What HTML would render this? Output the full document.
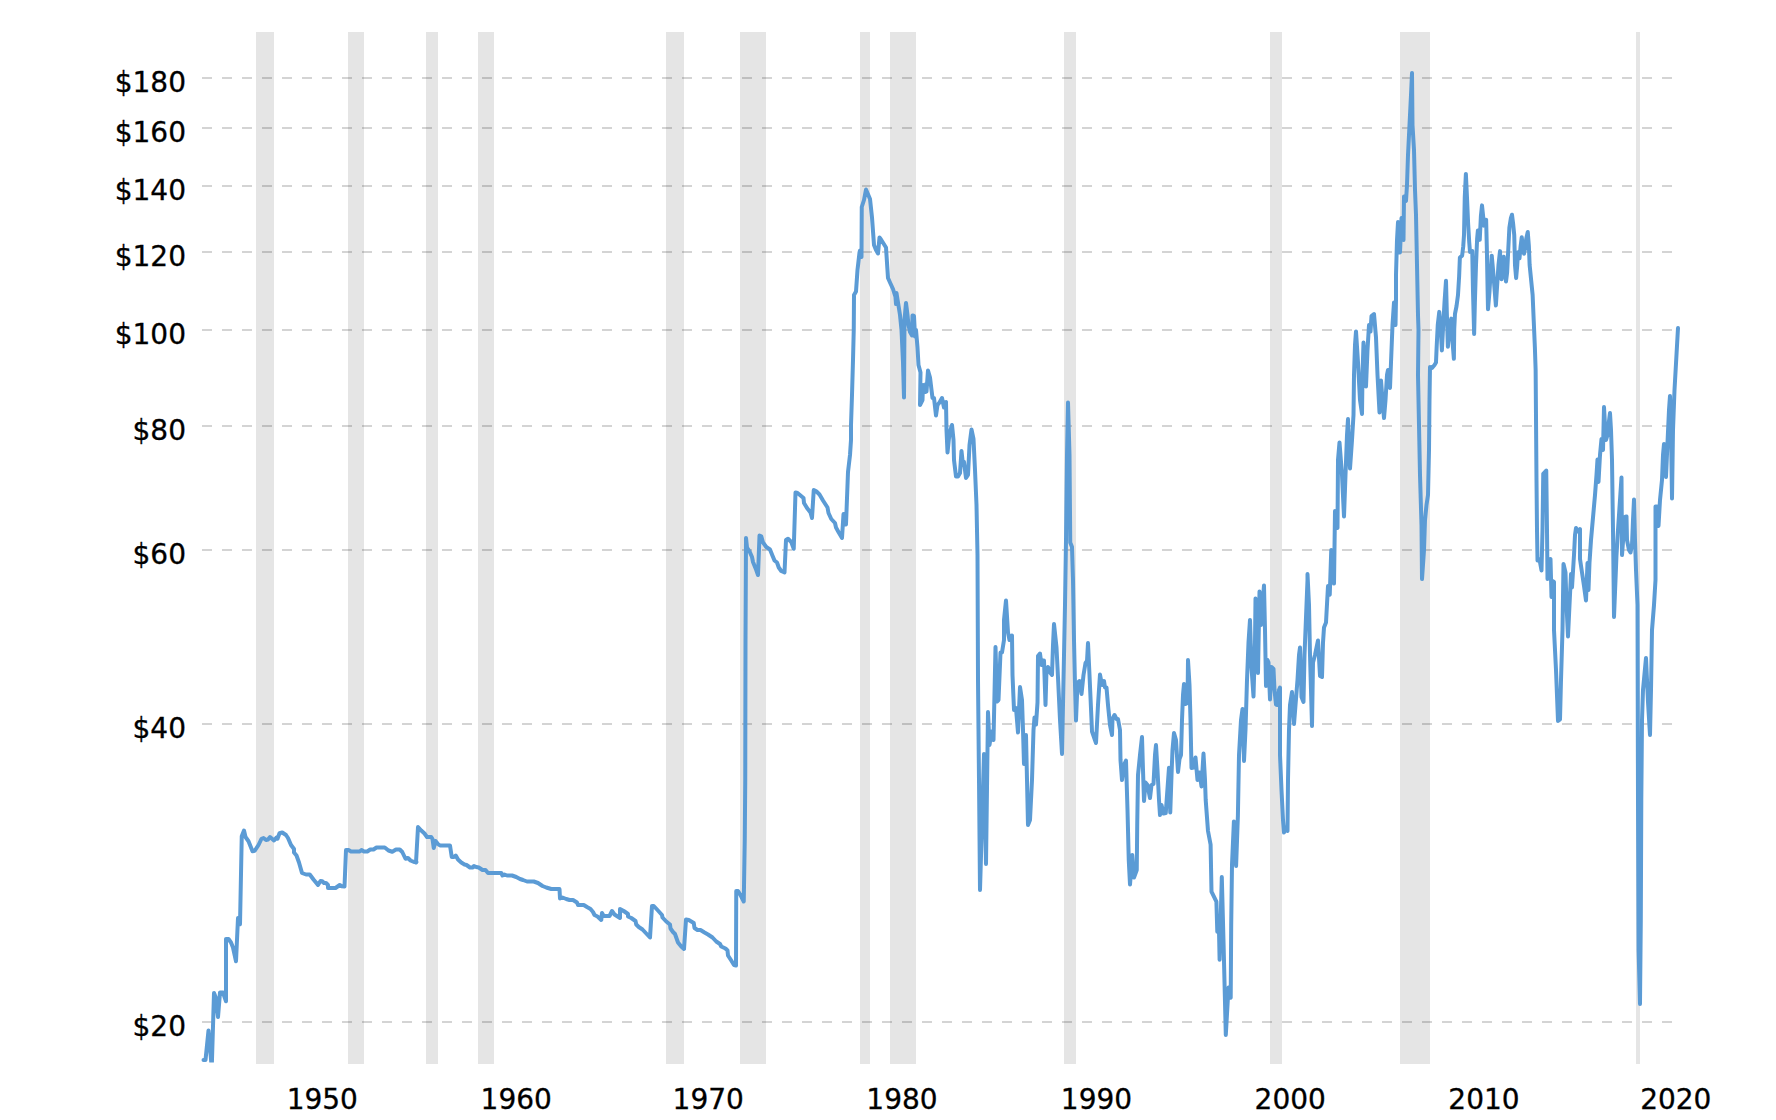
<!DOCTYPE html>
<html lang="en"><head><meta charset="utf-8"><title>Crude Oil Prices - Historical Chart</title>
<style>
html,body{margin:0;padding:0;background:#fff;}
body{width:1776px;height:1120px;overflow:hidden;font-family:"DejaVu Sans","Liberation Sans",sans-serif;}
svg{display:block;}
text{font-family:"DejaVu Sans","Liberation Sans",sans-serif;font-size:28px;fill:#000;stroke:#000;stroke-width:0.3px;}
</style></head><body>
<svg width="1776" height="1120" viewBox="0 0 1776 1120">
<rect width="1776" height="1120" fill="#fff"/>
<defs><clipPath id="plot"><rect x="200" y="32" width="1482" height="1030.5"/></clipPath></defs>

<g fill="#000" fill-opacity="0.1">
<rect x="256" y="32" width="18" height="1032"/>
<rect x="348" y="32" width="16" height="1032"/>
<rect x="426" y="32" width="12" height="1032"/>
<rect x="478" y="32" width="16" height="1032"/>
<rect x="666" y="32" width="18" height="1032"/>
<rect x="740" y="32" width="26" height="1032"/>
<rect x="860" y="32" width="10" height="1032"/>
<rect x="890" y="32" width="26" height="1032"/>
<rect x="1064" y="32" width="12" height="1032"/>
<rect x="1270" y="32" width="12" height="1032"/>
<rect x="1400" y="32" width="30" height="1032"/>
<rect x="1636" y="32" width="4" height="1032"/>
</g>
<g stroke="#000" stroke-opacity="0.17" stroke-width="2" stroke-dasharray="10,10" fill="none">
<path d="M202,78H1672"/>
<path d="M202,128H1672"/>
<path d="M202,186H1672"/>
<path d="M202,252H1672"/>
<path d="M202,330H1672"/>
<path d="M202,426H1672"/>
<path d="M202,550H1672"/>
<path d="M202,724H1672"/>
<path d="M202,1022H1672"/>
</g>
<g text-anchor="end">
<text x="186" y="91.7">$180</text>
<text x="186" y="141.7">$160</text>
<text x="186" y="199.7">$140</text>
<text x="186" y="265.7">$120</text>
<text x="186" y="343.7">$100</text>
<text x="186" y="439.7">$80</text>
<text x="186" y="563.7">$60</text>
<text x="186" y="737.7">$40</text>
<text x="186" y="1035.7">$20</text>
</g>
<g text-anchor="middle">
<text x="322.3" y="1109">1950</text>
<text x="516.2" y="1109">1960</text>
<text x="708.2" y="1109">1970</text>
<text x="902" y="1109">1980</text>
<text x="1096.5" y="1109">1990</text>
<text x="1290.2" y="1109">2000</text>
<text x="1484" y="1109">2010</text>
<text x="1675.8" y="1109">2020</text>
</g>
<g clip-path="url(#plot)"><path d="M203.5,1060 L205.5,1060 L208.5,1030.5 L211.75,1068 L214,993 L215.75,997.5 L218,1017 L220,992.5 L223,992.5 L226,1001.25 L226,939 L228.5,939 L231,942.5 L233,947.5 L236,961.25 L238,918 L240,924.25 L241.75,836.25 L244,830.5 L245.5,837 L248.5,841.25 L252.5,851.25 L254.75,850.75 L258.5,845 L261.5,838.75 L263.5,838 L266,840 L268,839.5 L270,837 L274,840.5 L276.5,837.5 L277.5,838.75 L279.5,833.25 L282.25,832.5 L286,835 L288,838 L291,845 L294,849 L294,852.5 L296.5,855.5 L299,862.5 L302,873 L306,874.5 L309.75,874.5 L313.5,879.5 L318,885 L320.5,881 L322.25,881.25 L324,883 L326,883 L328,885 L328,888 L335.5,888 L339.75,885 L341.75,886.25 L344.5,886.5 L346,850 L348.5,850 L351,851.5 L359.75,851.5 L361.5,850 L364,851.5 L367.25,851.5 L370.25,849.5 L373.5,849.5 L376.5,847.5 L384.75,847.5 L388.5,850.5 L392.25,851.75 L396,849.5 L399.75,849.5 L402.25,852 L405.5,858.75 L408,858 L410.5,860.5 L414,862 L416.5,862 L416,862.5 L418,827 L421.25,830.5 L424.5,833.5 L427,837 L431.25,837 L432.5,839 L433.75,848 L435.5,841 L438,844 L440,845.5 L450,845.5 L451.75,857 L454,857 L455.75,855.5 L458,859.5 L461.25,862.5 L464.5,864.5 L466.5,865 L470,867.5 L472.5,867.5 L474,866 L476.25,867 L478.75,867.5 L482.5,870 L485.5,870 L488,873 L501.25,873 L502.5,875.5 L504.5,874.5 L507,875.5 L512,875.5 L516.25,877 L520,879 L523,880 L527,881.5 L533.75,881.5 L538,883 L542.5,886 L546.25,887.5 L551.25,889 L559.5,889 L560,898.5 L562.5,897.5 L566.25,899 L569.5,900 L573,900 L577,902.5 L578,905 L583.75,905 L587,907 L590.5,909 L593,912 L594.5,915 L597.5,916.5 L601.25,920 L602,913 L603.75,916 L609.5,916 L612,911 L614.5,914.5 L620,918 L620,909 L623.75,911 L628,914 L628,916.5 L631.25,918 L635.5,921 L636.25,924.5 L638.75,927 L642.5,929.5 L646.25,933.5 L650,937.5 L652,906 L653.75,906 L657.5,910 L662,915 L662.5,917.5 L666.25,921.5 L670,924.5 L670.5,928.5 L673,932 L675,934 L678,942.5 L681.25,946.5 L684,949 L686,919.5 L688.75,920 L693.75,923 L694.5,928 L697.5,930 L700.5,930 L704.5,932.5 L708,934.5 L712.5,937.5 L716.25,941.5 L720,944 L721.25,946.5 L725.5,948.5 L727.5,950.5 L728,955.5 L731.25,960.5 L734,965 L736,965.5 L736.25,891 L738,891 L740.5,895 L743.75,901.5 L744.75,840 L745.25,780 L745.5,640 L745.75,590 L746,538 L747,547.5 L749.5,551.25 L752,557 L753,562 L756.25,570 L758,575 L759.5,535.5 L761.25,536.25 L763,542.5 L766.25,547 L770,549.5 L772,554.5 L774.5,560.5 L777,562.5 L778.75,567.5 L781.25,571 L784.5,572.5 L786,540 L788,538.75 L791.25,542 L793.75,548.75 L795.5,492.5 L797.5,493 L800.5,495.5 L803.5,498 L804,503 L807,508 L810.5,512.5 L812,518 L813.75,490 L816.25,491.25 L819.5,494.5 L823,500.5 L827.5,507.5 L828.5,513 L831.25,519 L835,523 L836,527.5 L838.75,532.5 L842,538 L843.5,514 L844.5,514 L846,524.5 L848,472 L850,455 L851,440 L851,425 L852,395 L853,360 L853.75,330 L854,295 L856,291.5 L857.5,270 L859.5,252.5 L860,250.5 L861.5,257 L861.75,207 L864,200 L866,189.5 L870,199 L872,217.5 L874,245 L876,250 L878,253.5 L879.5,237.5 L881,239.5 L886,247.5 L888,278 L890,282.5 L893,289 L895.5,297 L896,304 L896.5,293 L898,302.5 L900,315 L901.5,330 L903,362.5 L904,397.5 L904.5,320 L906,303 L907.5,315 L908.5,325 L910,332 L912,335.5 L912.5,315.5 L914,316 L915,336.5 L916,330 L917.5,347.5 L918.5,365 L920.5,372.5 L920,405 L922.5,400 L923,385 L925.5,392 L926,384 L926.5,391.5 L928,370.5 L930,377.5 L931.5,390 L932.5,398 L934,398 L936,415.5 L937.5,405 L939.5,402.5 L942,398 L944,407.5 L945,402.5 L946,402 L946.5,430 L947.5,452.5 L949.5,433 L952,425 L953.5,440 L954,460 L956,476.5 L958,476.5 L960,473 L961.5,451 L963,465 L964,462 L966,478 L968,475 L969.5,445 L971.5,429.5 L973.5,439 L975,470 L976.5,505 L977.5,555 L978,680 L979,780 L980,890 L984,754 L986,864 L988,712 L989.5,745 L991.5,731.5 L993.5,740 L995.5,647 L997,701.5 L998.5,700 L1000.5,652.5 L1002,652.5 L1004,640 L1004,620 L1006,600.5 L1008,632.5 L1009.5,640 L1012,635.5 L1012.5,675 L1014,710 L1016,708 L1018,732.5 L1020,687 L1022,700 L1023,730 L1024,764 L1026,735 L1028,825 L1030,820 L1032,780 L1033.5,730 L1034.5,717.5 L1036,724.5 L1037.5,702.5 L1038,656 L1040,653.5 L1041.5,665 L1043,660.5 L1044,660.5 L1045.5,705 L1046.5,670 L1048,667 L1050,672.5 L1052,675 L1053,645 L1054,624 L1056.5,647.5 L1058,677.5 L1060,720 L1062,754 L1063.5,680 L1065,605 L1066,540 L1067,455 L1068,402.5 L1069.5,455 L1070.25,542.5 L1072,547 L1073,580 L1074,640 L1075,685 L1076,720.5 L1077.5,683 L1079.5,681 L1081.5,694 L1083.5,675 L1085.5,663 L1087,661 L1088,643 L1089.5,675 L1091.5,720 L1092,731.5 L1096,743 L1098,705 L1100,674.5 L1102,685 L1104,681 L1105,687.5 L1106.5,687.5 L1108,705 L1110,725 L1112,735 L1112.5,719 L1114.5,715 L1116.5,719 L1118,719 L1120,730 L1120.5,760 L1122,780 L1124,765 L1126,760.5 L1127.5,810 L1128.75,860 L1130,884.5 L1132.25,855 L1134,877.5 L1136.75,870 L1137.25,822.5 L1138,775 L1140,755 L1142,737 L1143,770 L1144,801 L1145.5,782.5 L1147.5,785 L1150,798 L1151.5,785 L1153.5,784 L1155,755 L1156,745 L1157.5,770 L1159,800 L1160,815 L1161.5,805 L1163.5,813.5 L1165.75,813 L1169,767.75 L1170.25,812.5 L1171.75,768.5 L1172.5,750 L1174,733 L1176,740 L1178,772 L1179.5,759 L1181,755 L1182,720 L1183,695 L1184,684 L1185.5,704 L1187.5,703 L1188,660 L1189.5,685 L1190.5,720 L1191.5,768 L1193.5,767.5 L1195.5,757.5 L1197.5,780 L1199.5,772.5 L1201.5,786.5 L1203.5,753.5 L1205,780 L1205.7,800 L1208,831 L1210.6,844.7 L1211.5,891.6 L1216.4,901.6 L1217.3,931.8 L1218.7,916 L1219.6,959.7 L1221.8,877 L1223.6,945 L1225.8,1035 L1228.5,987.6 L1230.7,997.7 L1231.2,925 L1232,864.8 L1233.9,821.4 L1236.1,866 L1237.9,815.6 L1239,755 L1241,720 L1242.5,709 L1244,761 L1245.5,730 L1247,680 L1248.5,642.5 L1250,620 L1251.5,667.5 L1253.5,696.5 L1255,642.5 L1255.5,598.5 L1256.5,630 L1258,673 L1259.5,591.5 L1261,625 L1262.5,605 L1264,585.5 L1265,630 L1266,686 L1267.5,660 L1268.5,662.5 L1270,699.5 L1271.5,667 L1273.5,669 L1274.5,690 L1276,704.5 L1277.5,705 L1279,690 L1280,687.5 L1280,755 L1281.5,790 L1283,820 L1284,832.5 L1285.5,827.5 L1287.5,831 L1288,780 L1289,730 L1290,705 L1292,692 L1294,724 L1295.5,705 L1297.5,680 L1299,655 L1300,647.5 L1301.5,697 L1303.5,702 L1304.5,655 L1306,617.5 L1307.5,580 L1307.5,574 L1309,605 L1310,655 L1312,726 L1313,662.5 L1315,655 L1318,640.5 L1320,676 L1322,677 L1323,642.5 L1324,627.5 L1326,622.5 L1327.5,595 L1328,586 L1329.75,594.75 L1331.25,550 L1334,583.5 L1335,511 L1337.5,528 L1338,460 L1339.5,442.5 L1342,475 L1344,516.5 L1345.5,475 L1347,435 L1348,419 L1349,450 L1350,468.5 L1352,440 L1353.5,415 L1354,375 L1355,345 L1356,331.5 L1358,362.5 L1360,400 L1362,414 L1362.5,375 L1363.5,342.5 L1365,362.5 L1366,386.5 L1367.5,350 L1369,325 L1370.5,331.5 L1371.5,316 L1374,314 L1376,337.5 L1377.5,375 L1379.5,412.5 L1381,380.5 L1382.5,400 L1384,418 L1385.5,400 L1387,375 L1388,370 L1390,388 L1391,362.5 L1392.5,325 L1394,302.5 L1395.5,325 L1396,300 L1396,275 L1397,240 L1398,222 L1400,252.5 L1401.5,218 L1403.5,240 L1404,196.5 L1406,201 L1407,185 L1408,155 L1409.5,125 L1411,95 L1412,73 L1412.5,125 L1414,150 L1415,190 L1416,215 L1417,265 L1418,315 L1418.5,330 L1418,375 L1419,425 L1420,475 L1421.5,525 L1422,579 L1424,550 L1425,520 L1426.5,505 L1428,495 L1429,450 L1429.5,400 L1430,367 L1432,368 L1434.5,365 L1436,362.5 L1436.63,347.5 L1437.75,325 L1439.25,311.88 L1440.75,328.75 L1441.88,350.5 L1443,328.75 L1444.5,302.5 L1446,280.75 L1446.75,310 L1447.88,346.75 L1449.38,328.75 L1451.25,318.63 L1452.38,340 L1453.88,358.75 L1454.25,328.75 L1455,313.75 L1456.5,306.25 L1458,295 L1459.13,276.25 L1459.88,257.5 L1462.13,255.63 L1463.25,246.25 L1464,235 L1464.75,197.5 L1465.88,173.88 L1467,197.5 L1468.13,223.75 L1469.25,242.5 L1470,251.88 L1472.25,251.13 L1473,291.25 L1474.13,334 L1474.88,302.5 L1476,265 L1477.13,238.75 L1477.88,230.5 L1479,231.63 L1479.75,239.88 L1480.88,216.25 L1482,205.38 L1483.13,216.25 L1483.88,225.63 L1485,219.63 L1486.13,219.63 L1486.88,250 L1487.63,291.25 L1488,309.25 L1489.5,291.25 L1490.63,272.5 L1491.75,255.63 L1493.25,272.5 L1494.75,291.25 L1495.88,305.5 L1497,287.5 L1498.5,265 L1500,251.13 L1500.75,272.5 L1501.5,279.25 L1502.63,265 L1503.75,256.75 L1504.88,272.5 L1506,281.5 L1507.13,272.5 L1508.25,250 L1509.38,227.5 L1510.88,218.13 L1512,214.75 L1513.13,223.75 L1514.25,235 L1515,265 L1516.13,278.13 L1517.25,265 L1518,252.25 L1519.5,258.25 L1520.63,246.25 L1521.75,237.25 L1522.88,246.25 L1524,253.75 L1525.13,248.13 L1526.25,238.75 L1527.75,232 L1528.88,246.25 L1529.63,265 L1531.13,280 L1532.63,295 L1533.75,321.25 L1534.88,347.5 L1535.63,370 L1536.5,480 L1537,530 L1537.5,560.5 L1539.5,559.5 L1541.5,570.5 L1542.5,530 L1543.25,473.75 L1546.25,470.5 L1547,530 L1547.5,579 L1549,560 L1550.5,559 L1551.5,597 L1552.5,581 L1554,582 L1554,630 L1556,670 L1558,721 L1560,719.5 L1561,680 L1562.5,630 L1563.5,564 L1565.5,572.5 L1566.5,605 L1568,636.5 L1569.5,605 L1571,574 L1572,587.5 L1574,555 L1575,535 L1576,528 L1578,531.5 L1580,529 L1580,559 L1582,572.5 L1584,586 L1586,600.5 L1587.5,563 L1588.5,590 L1589.5,562.5 L1591,540 L1593,517.5 L1595,495 L1596.5,475 L1597.5,459.5 L1598.5,482 L1600,455 L1601.5,439 L1603,450 L1604,407 L1605,425 L1606,440 L1607.5,435 L1608.5,425 L1610,413 L1611,430 L1612,460 L1613,530 L1614,617 L1615.5,580 L1616.5,555 L1618,530 L1620,500 L1621.5,477.5 L1622,555 L1623.5,535 L1625,517 L1626.5,516.5 L1627,540 L1629,550 L1630.5,552.5 L1632,545 L1633,520 L1634,499.5 L1635,540 L1636,570 L1637.5,605 L1637.6,640 L1638,800 L1638.6,950 L1640,1004 L1640.8,920 L1641.3,800 L1642,720 L1643,690 L1646,658 L1648,702 L1650,735 L1651,690 L1652,630 L1654,605 L1655.5,580 L1655.5,506.5 L1657,506.5 L1658.5,526 L1660,500 L1662,480 L1663,455 L1664,444 L1666,477 L1667.5,442.5 L1669,410 L1670,396 L1671,430 L1672,498.5 L1673,430 L1674.5,390 L1678,328" fill="none" stroke="#5b9bd5" stroke-width="4" stroke-linejoin="round" stroke-linecap="round"/></g>
</svg></body></html>
